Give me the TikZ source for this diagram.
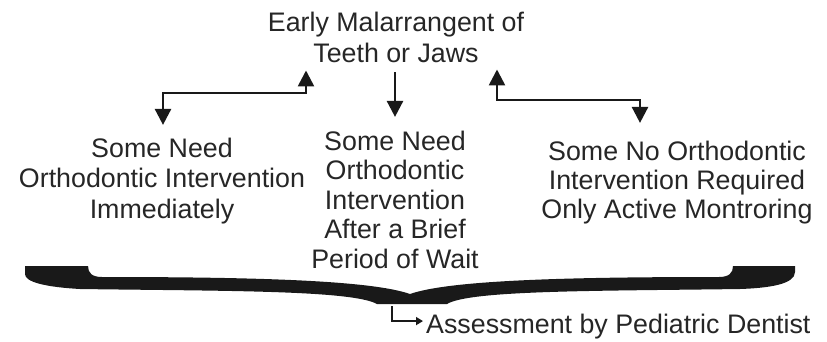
\documentclass[tikz,border=0pt]{standalone}
\usepackage{fontspec}
\setmainfont{Liberation Sans}
\usetikzlibrary{arrows.meta}
\begin{document}
\begin{tikzpicture}[x=1pt,y=-1pt,
  txt/.style={inner sep=0pt, align=center, text=black!85,
    font=\fontsize{26.8}{30}\selectfont},
  link/.style={line width=2.6pt, draw=black!90},
  twoway/.style={link, {Triangle[width=16pt,length=16pt]}-{Triangle[width=16pt,length=16pt]}},
  oneway/.style={link, -{Triangle[width=16pt,length=16pt]}},
  thinlink/.style={line width=1.6pt, draw=black!90, -{Triangle[width=8pt,length=7pt]}}]
\useasboundingbox (0,0) rectangle (827,341);

% texts
\node[txt, anchor=north, font=\fontsize{26.8}{31}\selectfont] (early) at (396,11.4)
  {Early Malarrangent of\\Teeth or Jaws};
\node[txt, anchor=north, font=\fontsize{26.8}{30.5}\selectfont] (immed) at (162,137.4)
  {Some Need\\Orthodontic Intervention\\Immediately};
\node[txt, anchor=north, font=\fontsize{26.8}{29.5}\selectfont] (later) at (395,130.4)
  {Some Need\\Orthodontic\\Intervention\\After a Brief\\Period of Wait};
\node[txt, anchor=north, font=\fontsize{26.8}{29}\selectfont] (watch) at (677,140.4)
  {Some No Orthodontic\\Intervention Required\\Only Active Montroring};
\node[txt, anchor=base west] (assess) at (426,333) {Assessment by Pediatric Dentist};

% bends of the two-way connectors
\coordinate (kneeL1) at (306,93);
\coordinate (kneeL2) at (163,93);
\coordinate (kneeR1) at (497,100);
\coordinate (kneeR2) at (640,100);

\draw[twoway, shorten <=8pt, shorten >=12.5pt]
  (early.south -| kneeL1) -- (kneeL1) -- (kneeL2) -- (immed.north -| kneeL2);
\draw[oneway, shorten <=10pt, shorten >=13.5pt]
  (early.south -| later.north) -- (later.north);
\draw[twoway, shorten <=7pt, shorten >=17.5pt]
  (early.south -| kneeR1) -- (kneeR1) -- (kneeR2) -- (watch.north -| kneeR2);

% large brace
\fill[black!90] (25,266) -- (88,266)
  .. controls (88,273) and (92,277) .. (102,277)
  .. controls (250,277) and (370,280) .. (410,294)
  .. controls (450,280) and (570,277) .. (719,277)
  .. controls (729,277) and (733,273) .. (733,266)
  -- (795,266) -- (795,272)
  .. controls (795,284) and (770,288) .. (740,289)
  .. controls (600,291) and (470,290) .. (447,304)
  -- (377,304)
  .. controls (352,290) and (220,291) .. (80,289)
  .. controls (45,287) and (25,282) .. (25,274)
  -- cycle;

\coordinate (braceTip) at (392,306);
\draw[thinlink, shorten >=3pt] (braceTip) |- ([yshift=5pt]assess.west);
\end{tikzpicture}
\end{document}
